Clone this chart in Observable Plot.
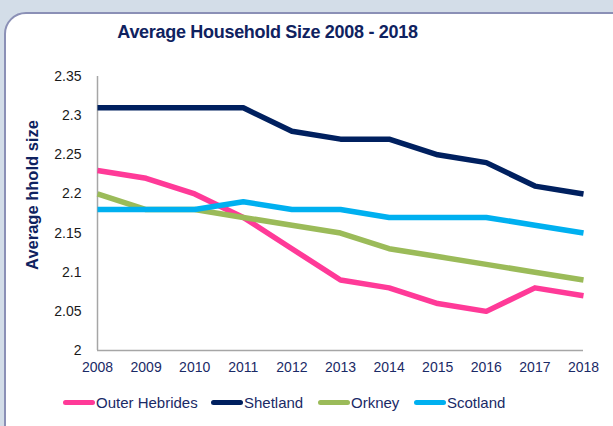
<!DOCTYPE html>
<html><head><meta charset="utf-8">
<script src="https://cdn.jsdelivr.net/npm/d3@7"></script>
<script src="https://cdn.jsdelivr.net/npm/@observablehq/plot@0.6"></script>
<style>
html,body{margin:0;padding:0;}
body{width:613px;height:426px;background:#d3dde8;position:relative;overflow:hidden;font-family:"Liberation Sans",Arial,sans-serif;}
#panel{position:absolute;left:4px;top:12px;width:660px;height:460px;background:#fff;border:2px solid #8b90b6;border-radius:22px;}
#title{position:absolute;left:0;width:535px;top:22px;text-align:center;font-weight:bold;font-size:18px;color:#0f2260;letter-spacing:-0.3px;}
#ytitle{position:absolute;left:32px;top:195px;transform:translate(-50%,-50%) rotate(-90deg);white-space:nowrap;font-weight:bold;font-size:16.5px;color:#0f2260;}
#chart{position:absolute;left:0;top:0;}
#legend{position:absolute;top:394px;left:0;width:613px;font-size:15px;color:#1a2a66;}
.item{position:absolute;display:flex;align-items:center;white-space:nowrap;}
.sw{display:inline-block;width:32px;height:5px;border-radius:3px;margin-right:1px;}
</style></head>
<body>
<div id="panel"></div>
<div id="title">Average Household Size 2008 - 2018</div>
<div id="ytitle">Average hhold size</div>
<div id="chart"></div>
<div id="legend"></div>
<script>
const years = [2008,2009,2010,2011,2012,2013,2014,2015,2016,2017,2018];
const outerHebrides = [2.23,2.22,2.20,2.17,2.13,2.09,2.08,2.06,2.05,2.08,2.07];
const shetland      = [2.31,2.31,2.31,2.31,2.28,2.27,2.27,2.25,2.24,2.21,2.20];
const orkney        = [2.20,2.18,2.18,2.17,2.16,2.15,2.13,2.12,2.11,2.10,2.09];
const scotland      = [2.18,2.18,2.18,2.19,2.18,2.18,2.17,2.17,2.17,2.16,2.15];
const seriesNames = ["Outer Hebrides","Shetland","Orkney","Scotland"];
const seriesColors = ["#ff3a98","#00205f","#9bbb59","#00b0f0"];
const yTicks = [2,2.05,2.1,2.15,2.2,2.25,2.3,2.35];

const seriesValues = [outerHebrides, shetland, orkney, scotland];
const data = seriesNames.flatMap((name,i)=>years.map((yr,j)=>({series:name, year:yr, value:seriesValues[i][j]})));

const chart = Plot.plot({
  width: 613,
  height: 380,
  marginLeft: 97,
  marginRight: 30,
  marginTop: 76,
  marginBottom: 30,
  style: {background:"transparent", overflow:"visible", fontFamily:"'Liberation Sans', Arial, sans-serif"},
  x: {domain:[2008,2018], ticks: years, tickFormat: d=>String(d), label:null, tickSize:0, tickPadding:14},
  y: {domain:[2,2.35], ticks: yTicks, tickFormat: d=>String(+d.toFixed(2)), label:null, tickSize:0, tickPadding:16},
  color: {domain: seriesNames, range: seriesColors},
  marks: [
    Plot.ruleX([2008], {stroke:"#a6a6a6", strokeWidth:1.5}),
    Plot.ruleY([2], {stroke:"#a6a6a6", strokeWidth:1.5}),
    Plot.axisY({ticks: yTicks, tickFormat: d=>String(+d.toFixed(2)), tickSize:0, tickPadding:16, fontSize:14, fill:"#1a1a1a", label:null}),
    Plot.axisX({ticks: years, tickFormat: d=>String(d), tickSize:0, tickPadding:12, fontSize:14, fill:"#1a2a66", label:null}),
    Plot.line(data, {x:"year", y:"value", z:"series", stroke:"series", strokeWidth:5.5, strokeLinejoin:"round", strokeLinecap:"butt"})
  ]
});
document.getElementById("chart").appendChild(chart);

const legend = document.getElementById("legend");
const lefts = [63,211,318,414];
seriesNames.forEach((n,i)=>{
  const it = document.createElement("div");
  it.className="item";
  it.style.left = lefts[i]+"px";
  it.innerHTML = `<span class="sw" style="background:${seriesColors[i]}"></span><span>${n}</span>`;
  legend.appendChild(it);
});
</script>
</body></html>
